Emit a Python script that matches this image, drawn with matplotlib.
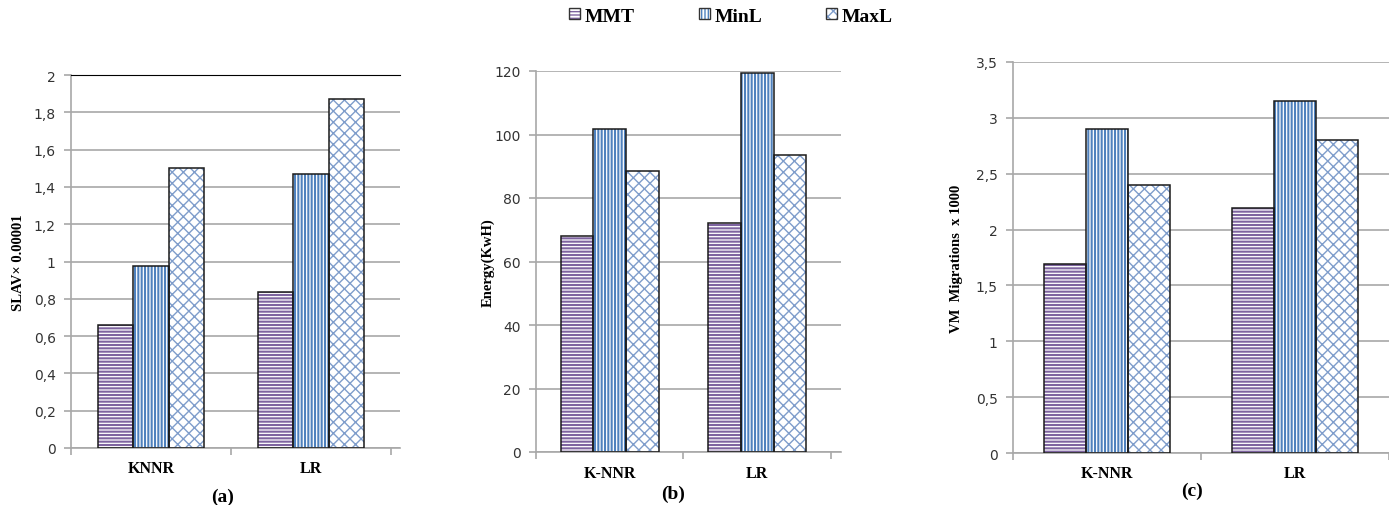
import matplotlib
matplotlib.use("Agg")
import matplotlib.pyplot as plt
from matplotlib.patches import Patch
from matplotlib.legend_handler import HandlerTuple
import numpy as np

# ---------------- data ----------------
series = ["MMT", "MinL", "MaxL"]
cats_a = ["KNNR", "LR"]
cats_bc = ["K-NNR", "LR"]

slav_mmt = [0.657, 0.836]
slav_minl = [0.975, 1.470]
slav_maxl = [1.502, 1.871]

energy_mmt = [67.9, 72.1]
energy_minl = [101.6, 119.3]
energy_maxl = [88.4, 93.6]

migr_mmt = [1.693, 2.195]
migr_minl = [2.896, 3.153]
migr_maxl = [2.395, 2.801]

slav_ticks = [0, 0.2, 0.4, 0.6, 0.8, 1, 1.2, 1.4, 1.6, 1.8, 2]
energy_ticks = [0, 20, 40, 60, 80, 100, 120]
migr_ticks = [0, 0.5, 1, 1.5, 2, 2.5, 3, 3.5]

# ---------------- styles ----------------
hatch_col = ["#7E64A0", "#4F81BD", "#7F9DCB"]
hatches = ["-----", "|||||", "xxx"]
hatch_lw = [1.5, 1.5, 1.0]
grid_col = "#A8A8A8"
serif = "Liberation Serif"

W, H = 1389, 506
fig = plt.figure(figsize=(W / 100, H / 100), dpi=100)


def fr(x0, x1, y_top, y_bot):
    return [x0 / W, 1 - y_bot / H, (x1 - x0) / W, (y_bot - y_top) / H]


def fmt(v):
    return ("%g" % v).replace(".", ",")


def panel(rect, cats, vals, ticks, ylabel, xmax, letter, letter_xy, ylab_x, black_top=False):
    ax = fig.add_axes(rect)
    ax.set_axisbelow(True)
    x = np.arange(len(cats))
    bw = 0.222
    for i, v in enumerate(vals):
        pos = x + (i - 1) * bw
        with plt.rc_context({"hatch.linewidth": hatch_lw[i]}):
            ax.bar(pos, v, bw, color="white", edgecolor=hatch_col[i], hatch=hatches[i],
                   lw=0, zorder=2)
        ax.bar(pos, v, bw, fill=False, edgecolor="#1a1a1a", lw=1.1, zorder=3)
    ax.set_xlim(-0.5, xmax)
    ax.set_ylim(ticks[0], ticks[-1])
    ax.set_yticks(ticks)
    ax.set_yticklabels([fmt(t) for t in ticks], fontsize=10, color="#333333",
                       family="DejaVu Sans")
    ax.yaxis.grid(True, color=grid_col, lw=1.2)
    ax.set_xticks([-0.5, 0.5, 1.5])
    ax.set_xticklabels([])
    ax.set_xticks(x, minor=True)
    ax.set_xticklabels(cats, minor=True, fontsize=11.5, fontweight="bold", family=serif)
    ax.tick_params(axis="x", which="minor", length=0, pad=9)
    ax.tick_params(axis="x", which="major", length=5, color=grid_col, width=1.2)
    ax.tick_params(axis="y", length=5, color=grid_col, width=1.2, pad=6)
    ax.spines["right"].set_visible(False)
    ax.spines["top"].set_visible(black_top)
    ax.spines["top"].set_color("black")
    for s in ["left", "bottom"]:
        ax.spines[s].set_color(grid_col)
        ax.spines[s].set_linewidth(1.2)
    fig.text(ylab_x / W, rect[1] + rect[3] / 2, ylabel, rotation=90, ha="center", va="center",
             fontsize=10.5, fontweight="bold", family=serif)
    fig.text(letter_xy[0] / W, 1 - letter_xy[1] / H, letter, ha="center", va="center",
             fontsize=14, fontweight="bold", family=serif)
    return ax


panel(fr(71, 400, 76, 449), cats_a, [slav_mmt, slav_minl, slav_maxl], slav_ticks,
      "SLAV× 0.00001", 1.556, "(a)", (223, 497), 19, black_top=True)
panel(fr(536, 841, 72, 453), cats_bc, [energy_mmt, energy_minl, energy_maxl], energy_ticks,
      "Energy(KwH)", 1.568, "(b)", (673, 494), 488)
panel(fr(1013, 1389, 63, 454), cats_bc, [migr_mmt, migr_minl, migr_maxl], migr_ticks,
      "VM  Migrations  x 1000", 1.469, "(c)", (1192, 491), 957)

handles = []
for i in range(3):
    with plt.rc_context({"hatch.linewidth": hatch_lw[i]}):
        h1 = Patch(facecolor="white", edgecolor=hatch_col[i], hatch=hatches[i], lw=0)
    h2 = Patch(fill=False, edgecolor="#333333", lw=1.0)
    handles.append((h1, h2))
fig.legend(handles, series, handler_map={tuple: HandlerTuple(ndivide=1)},
           loc="center", bbox_to_anchor=(731 / W, 1 - 17 / H), ncol=3, frameon=False,
           prop={"family": serif, "weight": "bold", "size": 14},
           handlelength=0.55, handleheight=0.55, handletextpad=0.25, columnspacing=3.3)

fig.savefig("out.png", dpi=100)
